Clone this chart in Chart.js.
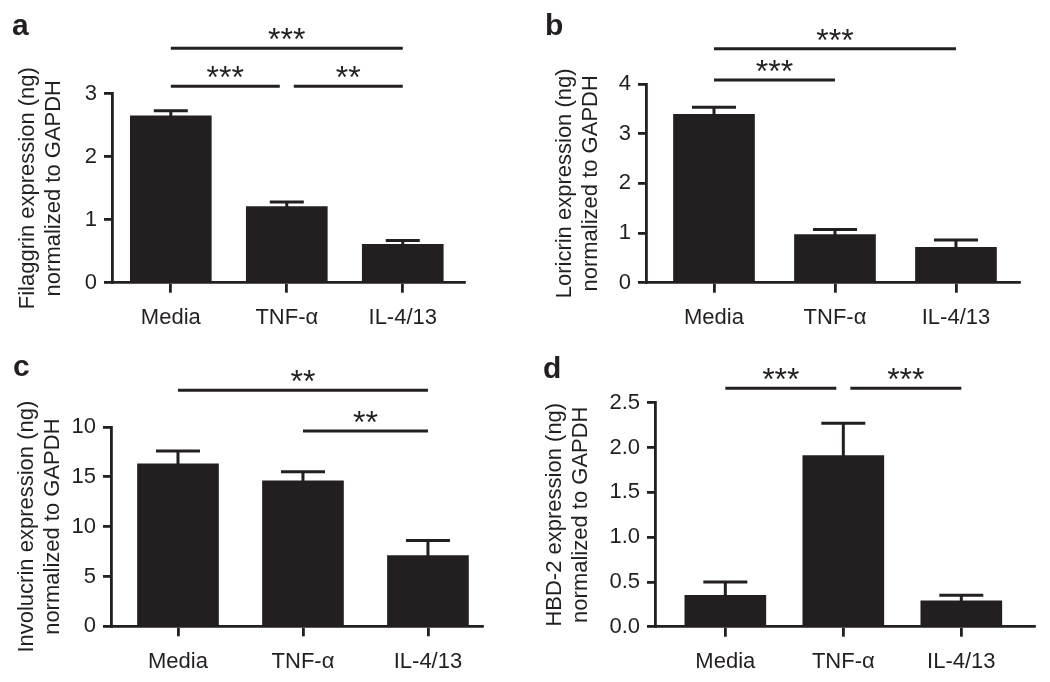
<!DOCTYPE html>
<html><head><meta charset="utf-8">
<script src="https://cdn.jsdelivr.net/npm/chart.js@4.4.0/dist/chart.umd.min.js"></script>
<style>
html,body{margin:0;padding:0;background:#fff;width:1050px;height:682px;overflow:hidden}
canvas{position:absolute}
</style></head><body>
<canvas id="pa" width="525" height="341" style="left:0;top:0"></canvas>
<canvas id="pb" width="525" height="341" style="left:525px;top:0"></canvas>
<canvas id="pc" width="525" height="341" style="left:0;top:341px"></canvas>
<canvas id="pd" width="525" height="341" style="left:525px;top:341px"></canvas>
<script>
// ---- data ----
const categories = ['Media', 'TNF-\u03b1', 'IL-4/13'];

const filaggrinMean = [2.65, 1.21, 0.61];
const filaggrinSEM  = [0.08, 0.07, 0.06];
const loricrinMean  = [3.39, 0.97, 0.71];
const loricrinSEM   = [0.14, 0.10, 0.15];
const involucrinMean = [16.3, 14.6, 7.1];
const involucrinSEM  = [1.3, 0.9, 1.5];
const hbd2Mean = [0.35, 1.91, 0.29];
const hbd2SEM  = [0.15, 0.36, 0.06];

const filaggrinTicks  = ['0', '1', '2', '3'];
const loricrinTicks   = ['0', '1', '2', '3', '4'];
const involucrinTicks = ['0', '5', '10', '15', '10'];
const hbd2Ticks       = ['0.0', '0.5', '1.0', '1.5', '2.0', '2.5'];

const filaggrinTitle  = ['Filaggrin expression (ng)', 'normalized to GAPDH'];
const loricrinTitle   = ['Loricrin expression (ng)', 'normalized to GAPDH'];
const involucrinTitle = ['Involucrin expression (ng)', 'normalized to GAPDH'];
const hbd2Title       = ['HBD-2 expression (ng)', 'normalized to GAPDH'];

// significance brackets: [from category, to category, level (axis units), label]
const filaggrinSig  = [[0, 2, 3.72, '***'], [0, 1, 3.12, '***'], [1, 2, 3.12, '**']];
const loricrinSig   = [[0, 2, 4.71, '***'], [0, 1, 4.08, '***']];
const involucrinSig = [[0, 2, 23.7, '**'], [1, 2, 19.6, '**']];
const hbd2Sig       = [[0, 1, 2.66, '***'], [1, 2, 2.66, '***']];

// ---- styling ----
const INK = '#231f20';
const FAM = "'Liberation Sans', Arial, Helvetica, sans-serif";

const annot = {
  id: 'annot',
  afterDatasetsDraw(chart, args, o) {
    const ctx = chart.ctx, xs = chart.scales.x, ys = chart.scales.y;
    ctx.save();
    ctx.strokeStyle = INK; ctx.lineWidth = 3; ctx.lineCap = 'butt';
    o.mean.forEach((m, i) => {
      const px = xs.getPixelForValue(i);
      const top = ys.getPixelForValue(m);
      const cap = ys.getPixelForValue(m + o.err[i]);
      ctx.beginPath();
      ctx.moveTo(px, top + 2); ctx.lineTo(px, cap);
      ctx.moveTo(px - o.cap, cap); ctx.lineTo(px + o.cap, cap);
      ctx.stroke();
    });
    ctx.restore();
  },
  afterDraw(chart, args, o) {
    const ctx = chart.ctx, xs = chart.scales.x, ys = chart.scales.y;
    ctx.save();
    ctx.strokeStyle = INK; ctx.fillStyle = INK; ctx.lineWidth = 3;
    o.sig.forEach(s => {
      const [a, b, lev, lab] = s;
      const shared = idx => o.sig.some(t => t !== s && t[2] === lev && (t[0] === idx || t[1] === idx));
      let x1 = xs.getPixelForValue(a), x2 = xs.getPixelForValue(b);
      if (shared(a)) x1 += 7;
      if (shared(b)) x2 -= 7;
      const py = ys.getPixelForValue(lev);
      ctx.beginPath(); ctx.moveTo(x1, py); ctx.lineTo(x2, py); ctx.stroke();
      ctx.font = '32px ' + FAM;
      ctx.textAlign = 'center'; ctx.textBaseline = 'alphabetic';
      ctx.fillText(lab, (x1 + x2) / 2, py + 2);
    });
    ctx.font = 'bold 30px ' + FAM;
    ctx.textAlign = 'left'; ctx.textBaseline = 'alphabetic';
    ctx.fillText(o.letter, o.lx, o.ly);
    ctx.restore();
  }
};

function panel(id, c) {
  const W = 525, H = 341, XH = 55;
  return new Chart(document.getElementById(id), {
    type: 'bar',
    data: {
      datasets: [{
        data: c.mean.map((v, i) => ({ x: i, y: v })),
        backgroundColor: INK, borderWidth: 0, barThickness: 81
      }]
    },
    options: {
      responsive: false, animation: false, devicePixelRatio: 1,
      layout: { padding: { left: c.box.sl, right: W - c.box.R, top: c.box.T, bottom: H - c.box.B - XH } },
      plugins: {
        legend: { display: false }, tooltip: { enabled: false },
        annot: { mean: c.mean, err: c.err, sig: c.sig, letter: c.letter, lx: c.lx, ly: c.ly, cap: c.cap }
      },
      scales: {
        x: {
          type: 'linear', min: c.xMin, max: c.xMax, offset: false,
          afterBuildTicks: s => { s.ticks = categories.map((_, i) => ({ value: i })); },
          afterFit: s => { s.height = XH; },
          ticks: { callback: v => categories[v], font: { family: FAM, size: 22 }, color: INK, padding: 12, autoSkip: false, maxRotation: 0 },
          grid: { display: true, offset: false, drawOnChartArea: false, drawTicks: true, tickLength: 10, color: INK, lineWidth: 2.8 },
          border: { display: true, color: INK, width: 2.8 }
        },
        y: {
          min: 0, max: c.yMax,
          afterFit: s => { s.width = c.box.L - c.box.sl; },
          ticks: { stepSize: c.step, callback: (v, i) => c.ticks[i], font: { family: FAM, size: 22 }, color: INK, padding: 7 },
          grid: { display: true, drawOnChartArea: false, drawTicks: true, tickLength: 8, color: INK, lineWidth: 2.8 },
          border: { display: true, color: INK, width: 2.8 },
          title: { display: true, text: c.title, font: { family: FAM, size: 22, lineHeight: '26px' }, color: INK, padding: 0 }
        }
      }
    },
    plugins: [annot]
  });
}

panel('pa', { mean: filaggrinMean, err: filaggrinSEM, sig: filaggrinSig, ticks: filaggrinTicks, title: filaggrinTitle,
  yMax: 3, step: 1, xMin: -0.507, xMax: 2.528, letter: 'a', lx: 12, ly: 35, cap: 17,
  box: { sl: 15, L: 112, R: 464, T: 93.7, B: 282.7 } });
panel('pb', { mean: loricrinMean, err: loricrinSEM, sig: loricrinSig, ticks: loricrinTicks, title: loricrinTitle,
  yMax: 4, step: 1, xMin: -0.562, xMax: 2.521, letter: 'b', lx: 20, ly: 35, cap: 22,
  box: { sl: 27, L: 121, R: 494, T: 84, B: 282.7 } });
panel('pc', { mean: involucrinMean, err: involucrinSEM, sig: involucrinSig, ticks: involucrinTicks, title: involucrinTitle,
  yMax: 20, step: 5, xMin: -0.536, xMax: 2.438, letter: 'c', lx: 13, ly: 35, cap: 22,
  box: { sl: 14, L: 111, R: 482.7, T: 86, B: 285.3 } });
panel('pd', { mean: hbd2Mean, err: hbd2SEM, sig: hbd2Sig, ticks: hbd2Ticks, title: hbd2Title,
  yMax: 2.5, step: 0.5, xMin: -0.596, xMax: 2.616, letter: 'd', lx: 18, ly: 36.5, cap: 22,
  box: { sl: 17, L: 130, R: 509, T: 61.7, B: 285.7 } });
</script>
</body></html>
